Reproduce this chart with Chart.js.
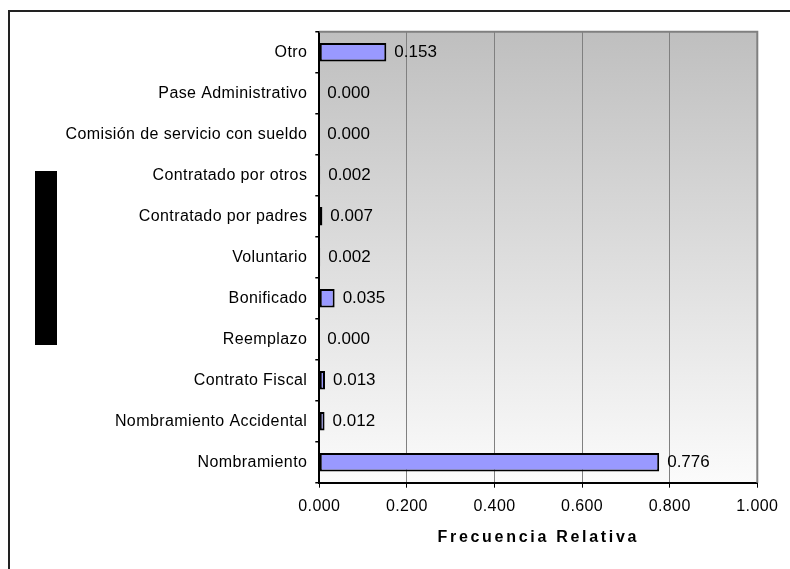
<!DOCTYPE html>
<html>
<head>
<meta charset="utf-8">
<script src="https://cdn.jsdelivr.net/npm/chart.js@4/dist/chart.umd.min.js"></script>
<style>
  html, body { margin: 0; padding: 0; background: #ffffff; }
  #c { display: block; }
</style>
</head>
<body>
<canvas id="c" width="790" height="569"></canvas>
<script>
// Tipo de contrato (de arriba hacia abajo) y su frecuencia relativa
const categories = [
  'Otro',
  'Pase Administrativo',
  'Comisión de servicio con sueldo',
  'Contratado por otros',
  'Contratado por padres',
  'Voluntario',
  'Bonificado',
  'Reemplazo',
  'Contrato Fiscal',
  'Nombramiento Accidental',
  'Nombramiento'
];
const frecuencias = [0.153, 0.000, 0.000, 0.002, 0.007, 0.002, 0.035, 0.000, 0.013, 0.012, 0.776];
const xTickLabels = ['0.000', '0.200', '0.400', '0.600', '0.800', '1.000'];
const xAxisTitle = 'Frecuencia Relativa';

const FONT = "'Liberation Sans', Arial, sans-serif";

// Fondo degradado del área de trazado, marco exterior y textos auxiliares
const decor = {
  id: 'decor',
  beforeDraw(chart) {
    const { ctx, chartArea: a } = chart;
    ctx.save();
    const g = ctx.createLinearGradient(0, a.top, 0, a.bottom);
    g.addColorStop(0, '#bfbfbf');
    g.addColorStop(1, '#fbfbfb');
    ctx.fillStyle = g;
    ctx.fillRect(a.left, a.top, a.right - a.left, a.bottom - a.top);
    ctx.restore();
    ctx.letterSpacing = '0.4px';
  },
  afterDatasetsDraw(chart) {
    const { ctx } = chart;
    const meta = chart.getDatasetMeta(0);
    ctx.save();
    ctx.letterSpacing = '0px';
    ctx.font = '17px ' + FONT;
    ctx.fillStyle = '#000000';
    ctx.textAlign = 'left';
    ctx.textBaseline = 'alphabetic';
    meta.data.forEach((el, i) => {
      ctx.fillText(frecuencias[i].toFixed(3), el.x + 8, el.y + 5);
    });
    ctx.restore();
  },
  afterDraw(chart) {
    const { ctx, chartArea: a } = chart;
    ctx.save();
    // bordes superior y derecho del área de trazado
    ctx.strokeStyle = '#808080';
    ctx.lineWidth = 2;
    ctx.beginPath();
    ctx.moveTo(a.left, a.top);
    ctx.lineTo(a.right, a.top);
    ctx.lineTo(a.right, a.bottom);
    ctx.stroke();
    // título del eje horizontal
    ctx.letterSpacing = '2.7px';
    ctx.font = 'bold 16px ' + FONT;
    ctx.fillStyle = '#000000';
    ctx.textAlign = 'center';
    ctx.textBaseline = 'alphabetic';
    ctx.fillText(xAxisTitle, (a.left + a.right) / 2, 542);
    ctx.letterSpacing = '0px';
    // marco exterior
    ctx.strokeStyle = '#222222';
    ctx.lineWidth = 2;
    ctx.strokeRect(9, 11, 820, 600);
    // bloque negro del eje vertical
    ctx.fillStyle = '#000000';
    ctx.fillRect(35, 171, 22, 174);
    ctx.restore();
  }
};

new Chart(document.getElementById('c'), {
  type: 'bar',
  data: {
    labels: categories,
    datasets: [{
      data: frecuencias,
      backgroundColor: '#9999ff',
      borderColor: '#000000',
      borderWidth: 2,
      borderSkipped: false,
      categoryPercentage: 1,
      barPercentage: 0.45
    }]
  },
  options: {
    indexAxis: 'y',
    responsive: false,
    devicePixelRatio: 1,
    animation: false,
    layout: { padding: { left: 0, top: 31.7, right: 32.7, bottom: 0 } },
    plugins: {
      legend: { display: false },
      tooltip: { enabled: false }
    },
    scales: {
      x: {
        min: 0,
        max: 1,
        afterFit(s) { s.height = 86.3; },
        afterBuildTicks(s) {
          s.ticks = xTickLabels.map(t => ({ value: parseFloat(t) }));
        },
        ticks: {
          callback: (v, i) => xTickLabels[i],
          color: '#000000',
          font: { family: FONT, size: 16 },
          padding: 9,
          maxRotation: 0
        },
        grid: {
          color: '#808080',
          lineWidth: 1,
          tickColor: '#000000',
          tickLength: 5
        },
        border: { color: '#000000', width: 2 }
      },
      y: {
        afterFit(s) { s.width = 319.3; },
        ticks: {
          color: '#000000',
          font: { family: FONT, size: 16 },
          padding: 8
        },
        grid: {
          drawOnChartArea: false,
          tickColor: '#000000',
          tickLength: 4,
          lineWidth: 1.5
        },
        border: { color: '#000000', width: 2 }
      }
    }
  },
  plugins: [decor]
});
</script>
</body>
</html>
